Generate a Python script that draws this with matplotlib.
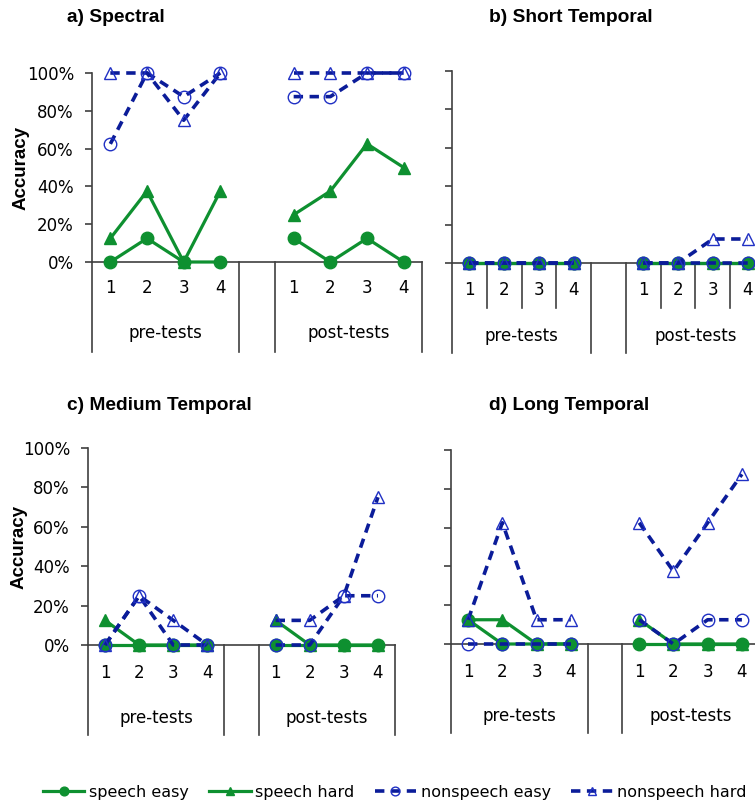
import matplotlib
matplotlib.use("Agg")
import numpy as np
import matplotlib.pyplot as plt
from matplotlib.lines import Line2D

# accuracy per session (fractions), pre-tests 1-4 and post-tests 1-4
titles = ["a) Spectral", "b) Short Temporal", "c) Medium Temporal", "d) Long Temporal"]
series_names = ["speech easy", "speech hard", "nonspeech easy", "nonspeech hard"]
session_labels = ["1", "2", "3", "4"]
group_labels = ["pre-tests", "post-tests"]
y_ticks = [0, 0.2, 0.4, 0.6, 0.8, 1.0]

spectral_pre = [
    [0, 0.125, 0, 0],
    [0.125, 0.375, 0, 0.375],
    [0.625, 1.0, 0.875, 1.0],
    [1.0, 1.0, 0.75, 1.0],
]
spectral_post = [
    [0.125, 0, 0.125, 0],
    [0.25, 0.375, 0.625, 0.5],
    [0.875, 0.875, 1.0, 1.0],
    [1.0, 1.0, 1.0, 1.0],
]
short_pre = [
    [0, 0, 0, 0],
    [0, 0, 0, 0],
    [0, 0, 0, 0],
    [0, 0, 0, 0],
]
short_post = [
    [0, 0, 0, 0],
    [0, 0, 0, 0],
    [0, 0, 0, 0],
    [0, 0, 0.125, 0.125],
]
medium_pre = [
    [0, 0, 0, 0],
    [0.125, 0, 0, 0],
    [0, 0.25, 0, 0],
    [0, 0.25, 0.125, 0],
]
medium_post = [
    [0, 0, 0, 0],
    [0.125, 0, 0, 0],
    [0, 0, 0.25, 0.25],
    [0.125, 0.125, 0.25, 0.75],
]
long_pre = [
    [0.125, 0, 0, 0],
    [0.125, 0.125, 0, 0],
    [0, 0, 0, 0],
    [0.125, 0.625, 0.125, 0.125],
]
long_post = [
    [0, 0, 0, 0],
    [0.125, 0, 0, 0],
    [0.125, 0, 0.125, 0.125],
    [0.625, 0.375, 0.625, 0.875],
]
panel_data = [
    (spectral_pre, spectral_post),
    (short_pre, short_post),
    (medium_pre, medium_post),
    (long_pre, long_post),
]

GREEN = "#0e9030"
NAVY = "#0b1c99"
BLUE = "#2030c4"
AXC = "#404040"

styles = [
    dict(color=GREEN, lw=2.3, ls="-", marker="o", ms=9, mfc=GREEN, mec=GREEN),
    dict(color=GREEN, lw=2.3, ls="-", marker="^", ms=9, mfc=GREEN, mec=GREEN),
    dict(color=NAVY, lw=2.6, ls=(0, (2.6, 1.8)), marker="o", ms=9, mfc="none", mec=BLUE, mew=1.0),
    dict(color=NAVY, lw=2.6, ls=(0, (2.6, 1.8)), marker="^", ms=9, mfc="none", mec=BLUE, mew=1.0),
]

W, H = 755, 806
fig = plt.figure(figsize=(W / 100, H / 100), dpi=100)
plt.rcParams["font.family"] = "DejaVu Sans"


def px_axes(x0, x1, y0, y1):
    # y0 = pixel row of 0%, y1 = pixel row of 100%
    return fig.add_axes([x0 / W, 1 - y0 / H, (x1 - x0) / W, (y0 - y1) / H])


# (left px, right px, zero row, top row, number y, group label y, line bottom, minor ticks, y labels)
layout = [
    (92, 422, 262, 73, -0.138, -0.376, -0.476, False, True),
    (452, 765, 263, 71, -0.14, -0.38, -0.47, True, False),
    (88, 395, 645, 448, -0.142, -0.37, -0.457, False, True),
    (451, 759, 644, 450, -0.144, -0.37, -0.46, False, False),
]
pre_x = [0, 1, 2, 3]
post_x = [5, 6, 7, 8]

for (pre, post), lay in zip(panel_data, layout):
    x0, x1, y0, y1, num_y, grp_y, line_y, minor, ylabels = lay
    ax = px_axes(x0, x1, y0, y1)
    for k in range(4):
        ax.plot(pre_x, pre[k], clip_on=False, zorder=3 + k, **styles[k])
        ax.plot(post_x, post[k], clip_on=False, zorder=3 + k, **styles[k])
    ax.set_xlim(-0.5, 8.5)
    ax.set_ylim(0, 1)
    ax.set_yticks(y_ticks)
    if ylabels:
        ax.set_yticklabels(["%d%%" % round(v * 100) for v in y_ticks], fontsize=12)
    else:
        ax.set_yticklabels([])
    ax.tick_params(axis="y", direction="out", length=5, width=1.2, color=AXC, pad=8)
    ax.set_xticks([])
    for s in ["top", "right"]:
        ax.spines[s].set_visible(False)
    for s in ["left", "bottom"]:
        ax.spines[s].set_color(AXC)
        ax.spines[s].set_linewidth(1.2)

    tr = ax.get_xaxis_transform()
    for xv in [-0.5, 3.5, 4.5, 8.5]:
        ax.add_line(Line2D([xv, xv], [0, line_y], transform=tr, color=AXC, lw=1.2, clip_on=False))
    if minor:
        for xv in [0.5, 1.5, 2.5, 5.5, 6.5, 7.5]:
            ax.add_line(Line2D([xv, xv], [0, -0.234], transform=tr, color=AXC, lw=1.2, clip_on=False))
    for xs in (pre_x, post_x):
        for xv, lab in zip(xs, session_labels):
            ax.text(xv, num_y, lab, transform=tr, ha="center", va="center", fontsize=12)
    ax.text(1.5, grp_y, group_labels[0], transform=tr, ha="center", va="center", fontsize=12)
    ax.text(6.5, grp_y, group_labels[1], transform=tr, ha="center", va="center", fontsize=12)

# panel titles
title_font = dict(family="Liberation Sans", weight="bold", fontsize=13.8, va="center")
fig.text(67 / W, 1 - 17 / H, titles[0], ha="left", **title_font)
fig.text(571 / W, 1 - 17 / H, titles[1], ha="center", **title_font)
fig.text(67 / W, 1 - 405 / H, titles[2], ha="left", **title_font)
fig.text(569 / W, 1 - 405 / H, titles[3], ha="center", **title_font)

# y labels
fig.text(21 / W, 1 - 168 / H, "Accuracy", rotation=90, ha="center", va="center",
         family="Liberation Sans", weight="bold", fontsize=13.5)
fig.text(19 / W, 1 - 547 / H, "Accuracy", rotation=90, ha="center", va="center",
         family="Liberation Sans", weight="bold", fontsize=13.5)

handles = [Line2D([], [], **st) for st in styles]
fig.legend(handles, series_names, loc="center", bbox_to_anchor=(0.523, 1 - 792 / H),
           ncol=4, frameon=False, fontsize=11.5, handlelength=2.6, handletextpad=0.3,
           columnspacing=1.25, markerscale=0.7)

fig.savefig("out.png", dpi=100)
